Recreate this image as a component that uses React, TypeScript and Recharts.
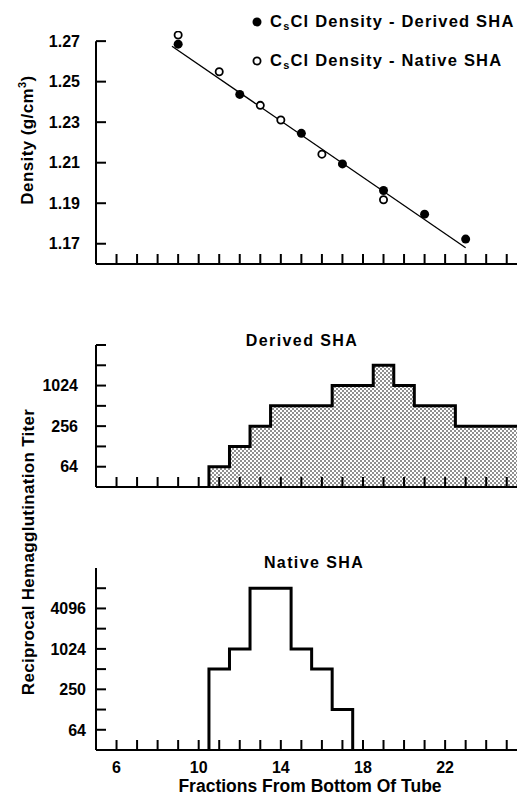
import React from 'react';
import { ComposedChart, Line, Area, Scatter, XAxis, YAxis, ReferenceLine } from 'recharts';

const FONT = '"Liberation Sans", Arial, sans-serif';

// ---- Top panel: CsCl density ----
const derivedDensityFractions = [9, 12, 15, 17, 19, 21, 23];
const derivedDensityValues = [1.2685, 1.2437, 1.2245, 1.2094, 1.1963, 1.1846, 1.1723];
const nativeDensityFractions = [9, 11, 13, 14, 16, 19];
const nativeDensityValues = [1.273, 1.2549, 1.2383, 1.2311, 1.2142, 1.1917];
const fitFractions = [8.7, 23.0];
const fitDensities = [1.2675, 1.168];
const densityTicks = [1.17, 1.19, 1.21, 1.23, 1.25, 1.27];

// ---- Shared x axis ----
const fractionTicks = [6, 7, 8, 9, 10, 11, 12, 13, 14, 15, 16, 17, 18, 19, 20, 21, 22, 23, 24, 25];
const fractionLabels = [6, 10, 14, 18, 22];

// ---- Derived SHA titers ----
const derivedTiterFractions = [11, 12, 13, 14, 15, 16, 17, 18, 19, 20, 21, 22, 23, 24, 25];
const derivedTiterValues = [64, 128, 256, 512, 512, 512, 1024, 1024, 2048, 1024, 512, 512, 256, 256, 256];
const derivedTiterTicks = [64, 128, 256, 512, 1024, 2048, 4096];
const derivedTiterTickLabels = ['64', '', '256', '', '1024', '', ''];

// ---- Native SHA titers ----
const nativeTiterFractions = [11, 12, 13, 14, 15, 16, 17];
const nativeTiterValues = [512, 1024, 8192, 8192, 1024, 512, 128];
const nativeTiterTicks = [64, 128, 256, 512, 1024, 2048, 4096, 8192];
const nativeTiterTickLabels = ['64', '', '250', '', '1024', '', '4096', ''];

const TITER_FLOOR = 32;

const zip = (xs: number[], ys: number[]) => xs.map((x, i) => ({ x, y: ys[i] }));

const derivedDensityData = zip(derivedDensityFractions, derivedDensityValues);
const nativeDensityData = zip(nativeDensityFractions, nativeDensityValues);
const fitData = zip(fitFractions, fitDensities);

function stepData(fr: number[], vals: number[], closeRight: boolean) {
  const pts = [{ x: fr[0] - 0.5, y: Math.log2(TITER_FLOOR) }];
  fr.forEach((f, i) => pts.push({ x: f - 0.5, y: Math.log2(vals[i]) }));
  const last = fr[fr.length - 1] + 0.5;
  pts.push({ x: last, y: closeRight ? Math.log2(TITER_FLOOR) : Math.log2(vals[vals.length - 1]) });
  return pts;
}

const derivedStep = stepData(derivedTiterFractions, derivedTiterValues, false);
const nativeStep = stepData(nativeTiterFractions, nativeTiterValues, true);

const makeXTick = (showLabels: boolean) => (props: any) => {
  const { x, y, payload } = props;
  const v = payload.value;
  return (
    <g>
      <line x1={x} x2={x} y1={y} y2={y - 10} stroke="#000" strokeWidth={2} />
      {showLabels && fractionLabels.includes(v) ? (
        <text x={x} y={y + 23} textAnchor="middle" fontFamily={FONT} fontWeight="bold" fontSize={16} fill="#000">
          {v}
        </text>
      ) : null}
    </g>
  );
};

const makeYTick = (labelOf: (v: number) => string, gap: number) => (props: any) => {
  const { x, y, payload } = props;
  const label = labelOf(payload.value);
  return (
    <g>
      <line x1={x} x2={x + 10} y1={y} y2={y} stroke="#000" strokeWidth={2} />
      {label ? (
        <text x={x - gap} y={y} dy="0.36em" textAnchor="end" fontFamily={FONT} fontWeight="bold" fontSize={16} fill="#000">
          {label}
        </text>
      ) : null}
    </g>
  );
};

const FilledDot = (p: any) => <circle cx={p.cx} cy={p.cy} r={4.5} fill="#000" />;
const OpenDot = (p: any) => <circle cx={p.cx} cy={p.cy} r={3.6} fill="#fff" stroke="#000" strokeWidth={1.8} />;

const axisStyle = { stroke: '#000', strokeWidth: 2 };

function TopChart() {
  return (
    <ComposedChart width={517} height={280} margin={{ top: 31, right: 0, bottom: 0, left: 0 }}>
      <XAxis
        type="number"
        dataKey="x"
        domain={[5, 25.5]}
        ticks={fractionTicks}
        interval={0}
        allowDataOverflow
        height={16}
        tickSize={0}
        tickMargin={0}
        tickLine={false}
        axisLine={axisStyle}
        tick={makeXTick(false)}
      />
      <YAxis
        type="number"
        dataKey="y"
        domain={[1.16, 1.275]}
        ticks={densityTicks}
        interval={0}
        allowDataOverflow
        width={96}
        tickSize={0}
        tickMargin={0}
        tickLine={false}
        axisLine={false}
        tick={makeYTick((v) => v.toFixed(2), 16)}
      />
      <ReferenceLine
        segment={[{ x: 5, y: 1.16 }, { x: 5, y: 1.27 }]}
        stroke="#000"
        strokeWidth={2}
        ifOverflow="visible"
      />
      <Line data={fitData} dataKey="y" type="linear" stroke="#000" strokeWidth={1.3} dot={false} activeDot={false} isAnimationActive={false} />
      <Scatter data={derivedDensityData} dataKey="y" shape={FilledDot} isAnimationActive={false} />
      <Scatter data={nativeDensityData} dataKey="y" shape={OpenDot} isAnimationActive={false} />
    </ComposedChart>
  );
}

function DerivedChart() {
  return (
    <ComposedChart width={517} height={200} margin={{ top: 45, right: 0, bottom: 0, left: 0 }}>
      <defs>
        <pattern id="stipple" patternUnits="userSpaceOnUse" width={4} height={4}>
          <rect width={4} height={4} fill="#fff" />
          <circle cx={1} cy={1} r={0.8} fill="#000" />
          <circle cx={3} cy={3} r={0.8} fill="#000" />
        </pattern>
      </defs>
      <XAxis
        type="number"
        dataKey="x"
        domain={[5, 25.5]}
        ticks={fractionTicks}
        interval={0}
        allowDataOverflow
        height={13}
        tickSize={0}
        tickMargin={0}
        tickLine={false}
        axisLine={axisStyle}
        tick={makeXTick(false)}
      />
      <YAxis
        type="number"
        dataKey="y"
        domain={[5, 12]}
        ticks={derivedTiterTicks.map((t) => Math.log2(t))}
        interval={0}
        allowDataOverflow
        width={96}
        tickSize={0}
        tickMargin={0}
        tickLine={false}
        axisLine={axisStyle}
        tick={makeYTick((v) => derivedTiterTickLabels[derivedTiterTicks.indexOf(Math.round(Math.pow(2, v)))] || '', 18)}
      />
      <Area
        data={derivedStep}
        dataKey="y"
        type="stepAfter"
        stroke="#000"
        strokeWidth={3}
        fill="url(#stipple)"
        fillOpacity={1}
        baseValue={5}
        dot={false}
        activeDot={false}
        isAnimationActive={false}
      />
    </ComposedChart>
  );
}

function NativeChart() {
  return (
    <ComposedChart width={517} height={278} margin={{ top: 48, right: 0, bottom: 0, left: 0 }}>
      <XAxis
        type="number"
        dataKey="x"
        domain={[5, 25.5]}
        ticks={fractionTicks}
        interval={0}
        allowDataOverflow
        height={48}
        tickSize={0}
        tickMargin={0}
        tickLine={false}
        axisLine={axisStyle}
        tick={makeXTick(true)}
      />
      <YAxis
        type="number"
        dataKey="y"
        domain={[5, 14]}
        ticks={nativeTiterTicks.map((t) => Math.log2(t))}
        interval={0}
        allowDataOverflow
        width={96}
        tickSize={0}
        tickMargin={0}
        tickLine={false}
        axisLine={axisStyle}
        tick={makeYTick((v) => nativeTiterTickLabels[nativeTiterTicks.indexOf(Math.round(Math.pow(2, v)))] || '', 10)}
      />
      <Line
        data={nativeStep}
        dataKey="y"
        type="stepAfter"
        stroke="#000"
        strokeWidth={3}
        dot={false}
        activeDot={false}
        isAnimationActive={false}
      />
    </ComposedChart>
  );
}

export default function App() {
  const txt = { fontFamily: FONT, fontWeight: 'bold' as const, fill: '#000' };
  return (
    <div style={{ position: 'absolute', left: 0, top: 0, width: 517, height: 798, background: '#fff', overflow: 'hidden' }}>
      <div style={{ position: 'absolute', left: 0, top: 0 }}>
        <TopChart />
      </div>
      <div style={{ position: 'absolute', left: 0, top: 300 }}>
        <DerivedChart />
      </div>
      <div style={{ position: 'absolute', left: 0, top: 520 }}>
        <NativeChart />
      </div>
      <svg width={517} height={798} style={{ position: 'absolute', left: 0, top: 0, pointerEvents: 'none' }}>
        {/* legend */}
        <circle cx={257} cy={22} r={4.5} fill="#000" />
        <text x={270} y={27} fontSize={16.5} letterSpacing={1.2} {...txt}>
          C<tspan fontSize={11} dy={3}>s</tspan>
          <tspan dy={-3}>Cl Density - Derived SHA</tspan>
        </text>
        <circle cx={257} cy={61} r={3.6} fill="#fff" stroke="#000" strokeWidth={1.8} />
        <text x={270} y={66} fontSize={16.5} letterSpacing={1.2} {...txt}>
          C<tspan fontSize={11} dy={3}>s</tspan>
          <tspan dy={-3}>Cl Density - Native SHA</tspan>
        </text>
        {/* y labels */}
        <text x={33} y={140} textAnchor="middle" fontSize={17} letterSpacing={0.4} transform="rotate(-90, 33, 140)" {...txt}>
          Density (g/cm<tspan fontSize={11} dy={-7}>3</tspan>
          <tspan dy={7}>)</tspan>
        </text>
        <text x={34} y={552} textAnchor="middle" fontSize={17} letterSpacing={0.3} transform="rotate(-90, 34, 552)" {...txt}>
          Reciprocal  Hemagglutination  Titer
        </text>
        {/* panel titles */}
        <text x={302} y={346} textAnchor="middle" fontSize={16} letterSpacing={1.4} {...txt}>
          Derived  SHA
        </text>
        <text x={314} y={568} textAnchor="middle" fontSize={16} letterSpacing={1.4} {...txt}>
          Native  SHA
        </text>
        {/* x label */}
        <text x={310} y={792} textAnchor="middle" fontSize={17.5} {...txt}>
          Fractions From Bottom Of  Tube
        </text>
      </svg>
    </div>
  );
}
